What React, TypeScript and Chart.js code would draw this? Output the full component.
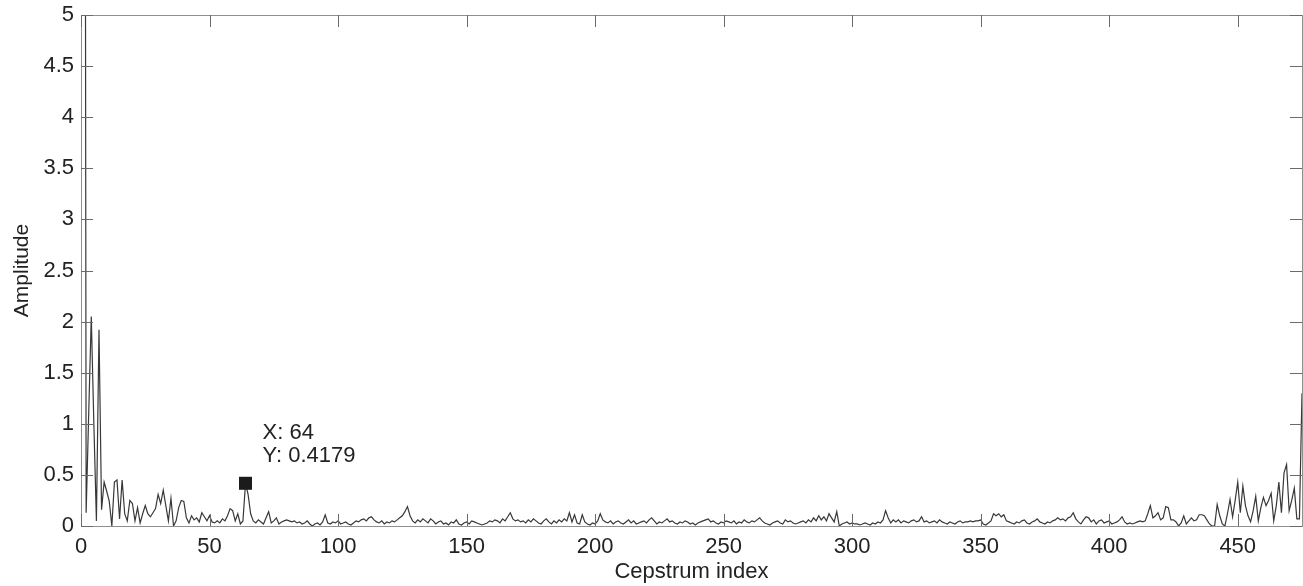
import React, { useEffect, useRef } from "react";
import { Chart, registerables } from "chart.js";

Chart.register(...registerables);

// Cepstrum amplitude, index 0..475
const amplitude: number[] = [
  24, 20, 0.13, 1.1, 2.05, 1.0, 0.05, 1.92, 0.16, 0.43,
  0.34, 0.24, 0.0, 0.43, 0.45, 0.07, 0.45, 0.12, 0.05, 0.25,
  0.22, 0.05, 0.18, 0.03, 0.12, 0.2, 0.12, 0.09, 0.13, 0.17,
  0.31, 0.22, 0.35, 0.2, 0.05, 0.27, 0.0, 0.05, 0.18, 0.25,
  0.24, 0.08, 0.03, 0.1, 0.06, 0.08, 0.04, 0.13, 0.09, 0.05,
  0.1, 0.04, 0.03, 0.05, 0.03, 0.07, 0.05, 0.1, 0.17, 0.15,
  0.05, 0.12, 0.02, 0.05, 0.4179, 0.31, 0.12, 0.05, 0.03, 0.06,
  0.04, 0.02, 0.08, 0.14, 0.03, 0.05, 0.08, 0.02, 0.04, 0.05,
  0.06, 0.05, 0.04, 0.05, 0.03, 0.04, 0.02, 0.03, 0.05, 0.02,
  0.0, 0.02, 0.03, 0.01, 0.04, 0.11, 0.03, 0.02, 0.04, 0.03,
  0.05, 0.02, 0.03, 0.04, 0.02, 0.01, 0.03, 0.05, 0.04, 0.06,
  0.07, 0.05, 0.08, 0.09, 0.06, 0.04, 0.03, 0.05, 0.02, 0.04,
  0.03, 0.05, 0.04, 0.06, 0.08, 0.1, 0.14, 0.19, 0.1, 0.05,
  0.03, 0.06, 0.04, 0.07, 0.05, 0.03, 0.07, 0.05, 0.02, 0.04,
  0.05, 0.02, 0.03, 0.01, 0.04, 0.03, 0.06, 0.02, 0.01, 0.03,
  0.04, 0.02, 0.05, 0.04, 0.03, 0.02, 0.01, 0.02, 0.03, 0.05,
  0.04, 0.06, 0.05, 0.03, 0.07, 0.05, 0.09, 0.13, 0.07, 0.05,
  0.06, 0.04, 0.05, 0.03, 0.06, 0.04, 0.07, 0.05, 0.03, 0.02,
  0.05, 0.07, 0.04, 0.02, 0.05, 0.03, 0.06, 0.04, 0.07, 0.05,
  0.13, 0.04, 0.11, 0.03, 0.02, 0.11, 0.04, 0.02, 0.01, 0.03,
  0.02, 0.05, 0.12, 0.06, 0.04, 0.03, 0.05, 0.02, 0.04, 0.05,
  0.03, 0.02, 0.04, 0.06, 0.03, 0.05, 0.02, 0.03, 0.04, 0.05,
  0.03, 0.06, 0.08, 0.05, 0.02, 0.04, 0.03, 0.05, 0.07, 0.04,
  0.05, 0.03, 0.02, 0.04, 0.03, 0.05, 0.04, 0.02, 0.03, 0.01,
  0.03, 0.04, 0.05, 0.06, 0.07, 0.04, 0.05, 0.03, 0.02, 0.04,
  0.03, 0.05, 0.04, 0.03, 0.05, 0.02, 0.04, 0.03, 0.06, 0.04,
  0.03, 0.05, 0.04, 0.06, 0.08, 0.05, 0.03, 0.02, 0.01, 0.03,
  0.04, 0.05, 0.03, 0.02, 0.06, 0.04, 0.05, 0.03, 0.02, 0.03,
  0.04, 0.05, 0.03, 0.06, 0.04, 0.08, 0.05, 0.1, 0.06, 0.09,
  0.05, 0.12, 0.08, 0.04, 0.14, 0.0, 0.02, 0.03, 0.04, 0.02,
  0.03, 0.02, 0.02, 0.01, 0.02, 0.03, 0.02, 0.01, 0.03, 0.02,
  0.04, 0.03, 0.06, 0.15, 0.08, 0.03, 0.06, 0.04, 0.06, 0.03,
  0.05, 0.04, 0.03, 0.05, 0.06, 0.04, 0.05, 0.09, 0.04, 0.05,
  0.03, 0.04, 0.05, 0.03, 0.06, 0.04, 0.03, 0.02, 0.04, 0.03,
  0.02, 0.04, 0.05, 0.03, 0.04, 0.04, 0.05, 0.04, 0.05, 0.05,
  0.06, 0.02, 0.01, 0.03, 0.05, 0.12, 0.1, 0.12, 0.09, 0.11,
  0.05, 0.04, 0.03, 0.02, 0.04, 0.03, 0.05, 0.06, 0.03, 0.02,
  0.04, 0.05, 0.07, 0.04, 0.03, 0.02, 0.04, 0.03, 0.05, 0.06,
  0.08, 0.06, 0.07, 0.05, 0.08, 0.09, 0.13, 0.07, 0.04, 0.02,
  0.06, 0.09, 0.08, 0.04, 0.06, 0.02, 0.05, 0.06, 0.03, 0.04,
  0.05, 0.02, 0.03, 0.04, 0.06, 0.09, 0.04, 0.02, 0.03, 0.02,
  0.03, 0.04, 0.05, 0.04, 0.05, 0.12, 0.2, 0.08, 0.1, 0.13,
  0.06, 0.08, 0.19, 0.18, 0.06, 0.06, 0.04, 0.0, 0.03, 0.1,
  0.02, 0.05, 0.08, 0.05, 0.06, 0.11, 0.11, 0.1, 0.06, 0.02,
  0.0, 0.0, 0.21, 0.1, 0.02, 0.0, 0.12, 0.26, 0.09, 0.25,
  0.43, 0.13, 0.39, 0.2, 0.1, 0.04, 0.15, 0.29, 0.05, 0.18,
  0.28, 0.2, 0.25, 0.32, 0.05, 0.2, 0.43, 0.13, 0.52, 0.6,
  0.15, 0.25, 0.37, 0.07, 0.07, 1.3,
];

const xTicks: number[] = [0, 50, 100, 150, 200, 250, 300, 350, 400, 450];
const yTicks: number[] = [0, 0.5, 1, 1.5, 2, 2.5, 3, 3.5, 4, 4.5, 5];
const markerX: number[] = [64];
const markerY: number[] = [0.4179];
const markerText: string[] = ["X: 64", "Y: 0.4179"];

const xMin = 0;
const xMax = 475;
const yMin = 0;
const yMax = 5;

const FONT = "'Liberation Sans', Arial, Helvetica, sans-serif";
const TEXT = "#222222";

const framePlugin = {
  id: "frameTicks",
  afterDraw(chart: any) {
    const { ctx, chartArea } = chart;
    const { left, right, top, bottom } = chartArea;
    const xs = chart.scales.x;
    const ys = chart.scales.y;
    ctx.save();
    // frame
    ctx.strokeStyle = "#8f8f8f";
    ctx.lineWidth = 1;
    ctx.strokeRect(left + 0.5, top + 0.5, right - left, bottom - top);
    // inward ticks
    const tl = 12;
    ctx.strokeStyle = "#6a6a6a";
    ctx.beginPath();
    for (const t of xTicks) {
      const px = Math.round(xs.getPixelForValue(t)) + 0.5;
      ctx.moveTo(px, bottom);
      ctx.lineTo(px, bottom - tl);
      ctx.moveTo(px, top);
      ctx.lineTo(px, top + tl);
    }
    for (const t of yTicks) {
      const py = Math.round(ys.getPixelForValue(t)) + 0.5;
      ctx.moveTo(left, py);
      ctx.lineTo(left + tl, py);
      ctx.moveTo(right, py);
      ctx.lineTo(right - tl, py);
    }
    ctx.stroke();
    // data tip text
    ctx.fillStyle = TEXT;
    ctx.font = `22px ${FONT}`;
    ctx.textAlign = "left";
    ctx.textBaseline = "alphabetic";
    for (let i = 0; i < markerX.length; i++) {
      const px = xs.getPixelForValue(markerX[i]);
      const py = ys.getPixelForValue(markerY[i]);
      ctx.fillText(markerText[0], px + 17, py - 44);
      ctx.fillText(markerText[1], px + 17, py - 21);
    }
    ctx.restore();
  },
};

export default function App() {
  const canvasRef = useRef<HTMLCanvasElement | null>(null);

  useEffect(() => {
    if (!canvasRef.current) return;
    Chart.defaults.font.family = FONT;
    const chart = new Chart(canvasRef.current, {
      type: "line",
      data: {
        datasets: [
          {
            type: "scatter",
            data: markerX.map((x, i) => ({ x, y: markerY[i] })),
            pointStyle: "rect",
            pointRadius: 9.2,
            backgroundColor: "#1b1b1b",
            borderWidth: 0,
            showLine: false,
            order: 0,
          } as any,
          {
            data: amplitude.map((v, i) => ({ x: i, y: v })),
            borderColor: "#383838",
            borderWidth: 1.2,
            pointRadius: 0,
            fill: false,
            tension: 0,
            order: 1,
          },
        ],
      },
      options: {
        animation: false,
        responsive: false,
        devicePixelRatio: 1,
        layout: { autoPadding: false, padding: { top: 15, right: 1, left: 0, bottom: 0 } },
        plugins: { legend: { display: false }, tooltip: { enabled: false } },
        scales: {
          x: {
            type: "linear",
            min: xMin,
            max: xMax,
            grid: { display: false, drawTicks: false },
            border: { display: false },
            ticks: {
              stepSize: 50,
              includeBounds: false,
              color: TEXT,
              font: { size: 22, family: FONT },
              padding: 8,
              maxRotation: 0,
            },
            title: {
              display: true,
              text: "Cepstrum index",
              color: TEXT,
              font: { size: 22, family: FONT },
              padding: { top: 0, bottom: 1 },
            },
            afterFit: (s: any) => {
              s.height = 60;
              s.paddingLeft = 0;
              s.paddingRight = 0;
              s.paddingTop = 0;
              s.paddingBottom = 0;
            },
          },
          y: {
            type: "linear",
            min: yMin,
            max: yMax,
            grid: { display: false, drawTicks: false },
            border: { display: false },
            ticks: {
              stepSize: 0.5,
              color: TEXT,
              font: { size: 22, family: FONT },
              padding: 7,
              callback: (v: any) => String(Number(v)),
            },
            title: {
              display: true,
              text: "Amplitude",
              color: TEXT,
              font: { size: 21, family: FONT },
              padding: { top: 10, bottom: 0 },
            },
            afterFit: (s: any) => {
              s.width = 81;
              s.paddingLeft = 0;
              s.paddingRight = 0;
              s.paddingTop = 0;
              s.paddingBottom = 0;
            },
          },
        },
      },
      plugins: [framePlugin],
    });
    return () => chart.destroy();
  }, []);

  return (
    <div style={{ position: "absolute", left: 0, top: 0, width: 1303, height: 586, background: "#fff" }}>
      <canvas ref={canvasRef} width={1303} height={586} />
    </div>
  );
}
